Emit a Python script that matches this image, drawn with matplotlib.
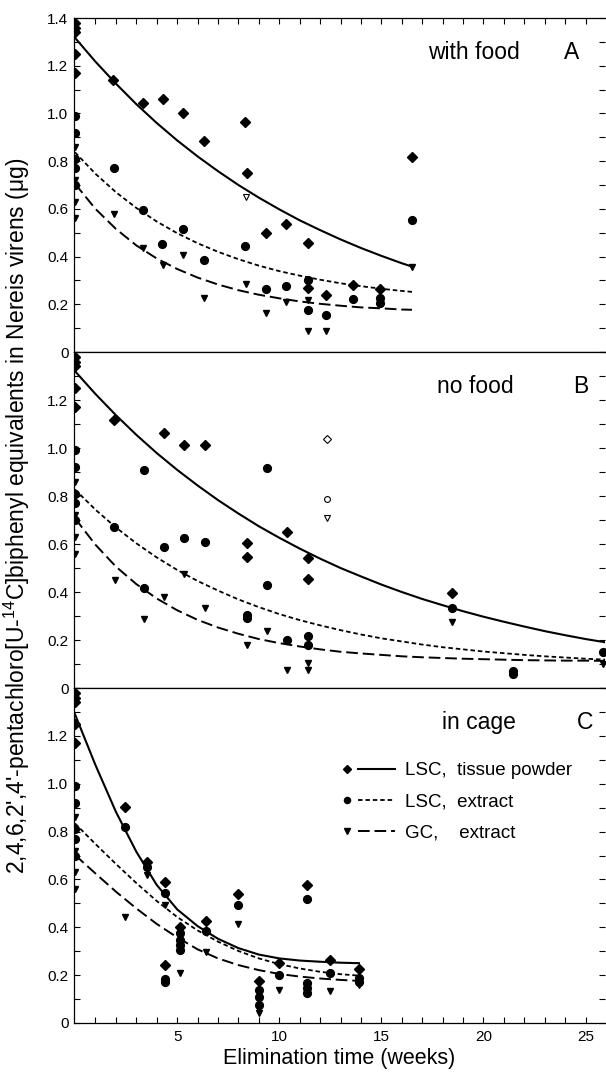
import matplotlib
matplotlib.use("Agg")
import matplotlib.pyplot as plt
from matplotlib.lines import Line2D
from matplotlib.legend_handler import HandlerTuple

plt.rcParams['font.family'] = ['Liberation Sans', 'DejaVu Sans']
plt.rcParams['mathtext.fontset'] = 'custom'
plt.rcParams['mathtext.rm'] = 'Liberation Sans'
plt.rcParams['mathtext.it'] = 'Liberation Sans:italic'

# values at time 0 (same animals for all three experiments)
t0_dia = [1.38, 1.36, 1.34, 1.25, 1.17]
t0_circ = [0.99, 0.92, 0.81, 0.77, 0.70]
t0_tri = [0.86, 0.72, 0.63, 0.56]

# ---- A: with food ----
a_dia_w = [1.84, 3.31, 4.29, 5.27, 6.30, 8.34, 8.40, 9.35, 10.33, 11.39, 11.39, 12.3, 13.63, 14.94, 16.49]
a_dia_v = [1.14, 1.045, 1.06, 1.0, 0.885, 0.965, 0.75, 0.50, 0.535, 0.455, 0.268, 0.241, 0.28, 0.266, 0.816]
a_circ_w = [1.89, 3.31, 4.24, 5.27, 6.30, 8.34, 9.35, 10.33, 11.39, 11.39, 12.3, 13.63, 14.94, 14.94, 16.49]
a_circ_v = [0.77, 0.596, 0.454, 0.517, 0.385, 0.443, 0.262, 0.278, 0.30, 0.176, 0.155, 0.222, 0.225, 0.204, 0.552]
a_tri_w = [1.89, 3.31, 4.29, 5.27, 6.30, 8.37, 9.35, 10.33, 11.39, 11.39, 12.3, 14.94, 16.49]
a_tri_v = [0.579, 0.436, 0.364, 0.406, 0.228, 0.283, 0.162, 0.208, 0.218, 0.086, 0.086, 0.21, 0.357]
a_open_tri_w = [8.37]
a_open_tri_v = [0.649]

a_fit_w = [0, 1, 2, 3, 4, 5, 6, 7, 8, 9, 10, 11, 12, 13, 14, 15, 16, 16.5]
a_fit_tissue = [1.317, 1.217, 1.125, 1.039, 0.960, 0.887, 0.820, 0.758, 0.700, 0.647,
                0.598, 0.552, 0.511, 0.472, 0.436, 0.403, 0.372, 0.358]
a_fit_lsc = [0.837, 0.747, 0.670, 0.604, 0.547, 0.498, 0.456, 0.420, 0.389, 0.362,
             0.339, 0.320, 0.303, 0.288, 0.276, 0.265, 0.256, 0.252]
a_fit_gc = [0.705, 0.600, 0.516, 0.447, 0.392, 0.348, 0.312, 0.283, 0.259, 0.240,
            0.225, 0.212, 0.202, 0.194, 0.187, 0.183, 0.178, 0.177]

# ---- B: no food ----
b_dia_w = [1.92, 4.34, 5.32, 6.36, 8.42, 8.42, 10.38, 11.40, 11.40, 18.45]
b_dia_v = [1.115, 1.063, 1.014, 1.014, 0.606, 0.545, 0.648, 0.540, 0.456, 0.397]
b_circ_w = [1.92, 3.36, 3.36, 4.34, 5.32, 6.36, 8.42, 8.42, 9.40, 9.40, 10.38, 11.40, 11.40, 18.45, 21.46, 21.46, 25.85]
b_circ_v = [0.672, 0.907, 0.418, 0.587, 0.623, 0.608, 0.306, 0.29, 0.918, 0.430, 0.20, 0.215, 0.180, 0.334, 0.07, 0.058, 0.15]
b_tri_w = [1.96, 3.36, 4.34, 5.32, 6.36, 8.42, 9.40, 10.38, 11.40, 11.40, 18.45, 25.85]
b_tri_v = [0.451, 0.287, 0.380, 0.475, 0.334, 0.179, 0.239, 0.076, 0.104, 0.073, 0.273, 0.10]
b_open_w = [12.36]
b_open_dia_v = [1.038]
b_open_circ_v = [0.787]
b_open_tri_v = [0.707]

b_fit_w = list(range(0, 27))
b_fit_tissue = [1.320, 1.225, 1.137, 1.055, 0.979, 0.909, 0.844, 0.783, 0.727, 0.674,
                0.626, 0.581, 0.539, 0.500, 0.465, 0.431, 0.400, 0.371, 0.345, 0.320,
                0.297, 0.276, 0.256, 0.237, 0.220, 0.204, 0.190]
b_fit_lsc = [0.827, 0.743, 0.669, 0.603, 0.544, 0.492, 0.446, 0.406, 0.369, 0.337,
             0.308, 0.283, 0.261, 0.241, 0.223, 0.207, 0.194, 0.181, 0.170, 0.161,
             0.152, 0.145, 0.138, 0.132, 0.127, 0.122, 0.118]
b_fit_gc = [0.707, 0.597, 0.506, 0.433, 0.373, 0.324, 0.284, 0.252, 0.226, 0.204,
            0.187, 0.173, 0.161, 0.151, 0.144, 0.138, 0.132, 0.128, 0.125, 0.122,
            0.120, 0.118, 0.116, 0.115, 0.114, 0.114, 0.113]

# ---- C: in cage ----
c_dia_w = [2.44, 3.50, 4.42, 4.42, 5.12, 6.42, 8.0, 8.99, 10.0, 11.38, 12.49, 13.92]
c_dia_v = [0.904, 0.671, 0.591, 0.242, 0.402, 0.426, 0.538, 0.177, 0.249, 0.577, 0.263, 0.224]
c_circ_w = [2.44, 3.5, 4.42, 4.42, 4.42, 5.12, 5.12, 5.12, 5.12, 6.42, 8.0, 8.99, 8.99, 8.99,
            10.0, 11.38, 11.38, 11.38, 11.38, 12.49, 13.92, 13.92]
c_circ_v = [0.82, 0.653, 0.545, 0.182, 0.172, 0.375, 0.347, 0.326, 0.305, 0.384, 0.493, 0.138, 0.11, 0.075,
            0.20, 0.518, 0.166, 0.145, 0.125, 0.21, 0.186, 0.172]
c_tri_w = [2.44, 3.5, 4.42, 4.42, 5.12, 6.42, 8.0, 8.99, 8.99, 10.0, 11.38, 12.49, 13.92]
c_tri_v = [0.444, 0.618, 0.493, 0.166, 0.207, 0.298, 0.414, 0.06, 0.04, 0.138, 0.12, 0.134, 0.158]

c_fit_w = [0, 1, 2, 3, 4, 5, 6, 7, 8, 9, 10, 11, 12, 13, 13.9]
c_fit_tissue = [1.29, 1.078, 0.883, 0.716, 0.577, 0.475, 0.405, 0.352, 0.313, 0.286,
                0.270, 0.261, 0.256, 0.252, 0.250]
c_fit_lsc = [0.834, 0.748, 0.665, 0.585, 0.510, 0.443, 0.387, 0.340, 0.301, 0.270,
             0.246, 0.228, 0.214, 0.204, 0.198]
c_fit_gc = [0.702, 0.625, 0.549, 0.479, 0.414, 0.358, 0.308, 0.270, 0.242, 0.221,
            0.205, 0.194, 0.186, 0.180, 0.176]

panels = [
    ("with food", "A", a_dia_w, a_dia_v, a_circ_w, a_circ_v, a_tri_w, a_tri_v,
     a_fit_w, a_fit_tissue, a_fit_lsc, a_fit_gc),
    ("no food", "B", b_dia_w, b_dia_v, b_circ_w, b_circ_v, b_tri_w, b_tri_v,
     b_fit_w, b_fit_tissue, b_fit_lsc, b_fit_gc),
    ("in cage", "C", c_dia_w, c_dia_v, c_circ_w, c_circ_v, c_tri_w, c_tri_v,
     c_fit_w, c_fit_tissue, c_fit_lsc, c_fit_gc),
]

W, H = 606, 1073
fig = plt.figure(figsize=(W / 100, H / 100), dpi=100)
x_left, x_right = 74, 605
rows = [(18, 352), (352, 688), (688, 1023)]
name_x = [0.667, 0.684, 0.693]

dia_kw = dict(marker='D', ms=4.8, color='k', ls='none')
circ_kw = dict(marker='o', ms=5.6, color='k', ls='none')
tri_kw = dict(marker='v', ms=5.0, color='k', ls='none')

axes = []
for i, p in enumerate(panels):
    name, letter, dw, dv, cw, cv, tw, tv, fw, f1, f2, f3 = p
    top, bot = rows[i]
    ax = fig.add_axes([x_left / W, 1 - bot / H, (x_right - x_left) / W, (bot - top) / H])
    axes.append(ax)

    ax.plot(fw, f1, color='k', lw=1.5, ls='-')
    ax.plot(fw, f2, color='k', lw=1.3, ls=(0, (2.5, 1.6)))
    ax.plot(fw, f3, color='k', lw=1.4, ls=(0, (6, 2.5)))

    ax.plot([0] * len(t0_dia) + dw, t0_dia + dv, **dia_kw)
    ax.plot([0] * len(t0_circ) + cw, t0_circ + cv, **circ_kw)
    ax.plot([0] * len(t0_tri) + tw, t0_tri + tv, **tri_kw)

    ax.set_xlim(-0.05, 25.95)
    ax.set_ylim(0, 1.4)

    ax.text(name_x[i], 0.898, name, transform=ax.transAxes, fontsize=16.5,
            ha='left', va='center')
    ax.text(name_x[i] + 0.27, 0.898, letter, transform=ax.transAxes, fontsize=16.5,
            ha='center', va='center')

    yt = [0, 0.2, 0.4, 0.6, 0.8, 1.0, 1.2, 1.4]
    ylab = ['0', '0.2', '0.4', '0.6', '0.8', '1.0', '1.2', '1.4']
    if i > 0:
        ylab[-1] = ''
    ax.set_yticks(yt, ylab)
    ax.set_yticks([0.1, 0.3, 0.5, 0.7, 0.9, 1.1, 1.3], minor=True)
    ax.set_xticks([5, 10, 15, 20, 25])
    ax.set_xticks([w for w in range(1, 26) if w % 5 != 0], minor=True)
    ax.tick_params(axis='y', which='both', direction='in', left=True, right=True,
                   labelsize=11, pad=4, length=4, width=0.8)
    ax.tick_params(axis='x', which='both', direction='in', length=4, width=0.8,
                   top=(i == 0), bottom=(i == 2), labelbottom=(i == 2),
                   labelsize=11, pad=5)
    for s in ax.spines.values():
        s.set_linewidth(0.9)
    ax.spines['right'].set_visible(False)

# open symbols (not included in fits)
axes[0].plot(a_open_tri_w, a_open_tri_v, marker='v', ms=4.2, mfc='white', mec='k', mew=0.8, ls='none')
axes[1].plot(b_open_w, b_open_dia_v, marker='D', ms=3.8, mfc='white', mec='k', mew=0.8, ls='none')
axes[1].plot(b_open_w, b_open_circ_v, marker='o', ms=4.2, mfc='white', mec='k', mew=0.8, ls='none')
axes[1].plot(b_open_w, b_open_tri_v, marker='v', ms=4.2, mfc='white', mec='k', mew=0.8, ls='none')

axes[2].set_xlabel('Elimination time (weeks)', fontsize=15.5, labelpad=3)

# legend in panel C
h1 = (Line2D([], [], marker='D', ms=3.8, color='k', ls='none'), Line2D([], [], color='k', lw=1.5))
h2 = (Line2D([], [], marker='o', ms=4.4, color='k', ls='none'), Line2D([], [], color='k', lw=1.3, ls=(0, (2.5, 1.6))))
h3 = (Line2D([], [], marker='v', ms=4.0, color='k', ls='none'), Line2D([], [], color='k', lw=1.4, ls=(0, (6, 2.5))))
axes[2].legend([h1, h2, h3], ['LSC,  tissue powder', 'LSC,  extract', 'GC,    extract'],
               handler_map={tuple: HandlerTuple(ndivide=None, pad=-0.40)},
               loc='upper left', bbox_to_anchor=(0.479, 0.779), frameon=False,
               fontsize=13.5, handlelength=3.55, handletextpad=0.53, labelspacing=0.76,
               borderpad=0, borderaxespad=0)

fig.text(17 / W, 1 - 516 / H,
         "2,4,6,2',4'-pentachloro[U-$^{14}$C]biphenyl equivalents in Nereis virens (\u03bcg)",
         rotation=90, ha='center', va='center', fontsize=16.5)

fig.savefig('out.png', dpi=100, facecolor='white')
